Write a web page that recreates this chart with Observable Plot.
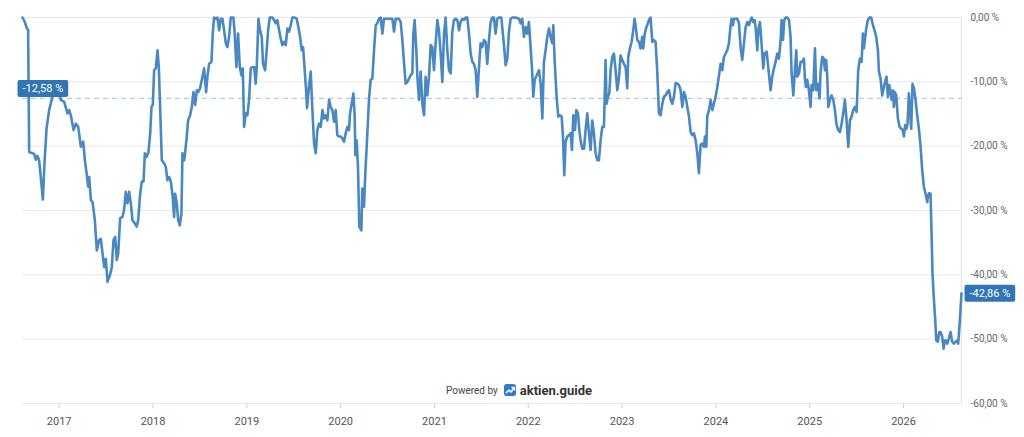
<!DOCTYPE html>
<html><head><meta charset="utf-8">
<script src="https://cdn.jsdelivr.net/npm/d3@7"></script>
<script src="https://cdn.jsdelivr.net/npm/@observablehq/plot@0.6"></script>
<style>
body{margin:0;background:#fff;font-family:Roboto,sans-serif}
#wrap{position:relative;width:1024px;height:437px}
#wm{position:absolute;left:446px;top:381px;display:flex;align-items:center;height:18px;font-family:Roboto,sans-serif}
svg [aria-label="x-axis tick"]{stroke:#d0d0d0}
</style></head><body>
<div id="wrap">
<div id="wm"><span style="font-size:10px;color:#444">Powered by</span><svg width="12" height="12" style="margin:0 4px 0 6px"><rect width="12" height="12" rx="2.5" fill="#2f7ccf"/><path d="M2 9 L5 6 L7 8 L10 4" stroke="#fff" stroke-width="1.6" fill="none" stroke-linejoin="round"/><path d="M7.5 3.5 L10.5 3.5 L10.5 6.5" stroke="#fff" stroke-width="1.4" fill="none"/></svg><span style="font-size:13px;font-weight:700;color:#333">aktien.guide</span></div>
</div>
<script>
// drawdown in % by date (decimal year)
const y2016 = [[2016.609,0],[2016.634,-0.7],[2016.655,-1.7],[2016.669,-1.9],[2016.680,-20.9],[2016.715,-21.1],[2016.733,-21.2],[2016.751,-22.1],[2016.769,-21.5],[2016.786,-22.2],[2016.804,-24.8],[2016.826,-28.3],[2016.843,-22.7],[2016.865,-17.3],[2016.893,-14.4],[2016.929,-12.3],[2016.964,-11.3]];
const y2017 = [[2017.000,-11.8],[2017.018,-12.8],[2017.053,-13.1],[2017.089,-14.9],[2017.107,-14.4],[2017.124,-15.2],[2017.153,-17.5],[2017.178,-16.5],[2017.203,-17.0],[2017.231,-20.1],[2017.256,-19.3],[2017.274,-22.2],[2017.292,-24.2],[2017.309,-26.3],[2017.320,-24.8],[2017.338,-28.4],[2017.356,-28.7],[2017.380,-31.5],[2017.401,-36.2],[2017.426,-34.6],[2017.444,-34.4],[2017.462,-36.7],[2017.480,-38.8],[2017.497,-37.5],[2017.515,-41.1],[2017.540,-40.1],[2017.561,-38.8],[2017.579,-34.6],[2017.597,-34.1],[2017.614,-37.7],[2017.629,-36.7],[2017.650,-31.2],[2017.675,-31.0],[2017.692,-29.9],[2017.710,-27.1],[2017.728,-28.9],[2017.746,-27.1],[2017.764,-28.9],[2017.781,-31.5],[2017.806,-32.0],[2017.827,-32.5],[2017.842,-31.5],[2017.863,-27.4],[2017.881,-25.5],[2017.899,-25.5],[2017.913,-21.1],[2017.931,-21.7],[2017.952,-20.9],[2017.970,-18.0],[2017.984,-13.9],[2017.998,-13.6]];
const y2018 = [[2018.012,-8.2],[2018.030,-7.9],[2018.048,-5.1],[2018.062,-7.7],[2018.076,-13.9],[2018.094,-22.2],[2018.119,-22.7],[2018.136,-23.2],[2018.154,-25.3],[2018.172,-24.8],[2018.190,-25.5],[2018.207,-27.4],[2018.225,-31.0],[2018.236,-27.4],[2018.254,-28.9],[2018.268,-31.5],[2018.286,-32.3],[2018.303,-30.5],[2018.314,-21.1],[2018.332,-22.2],[2018.342,-21.1],[2018.360,-18.5],[2018.374,-16.0],[2018.396,-15.2],[2018.413,-13.9],[2018.431,-11.6],[2018.449,-13.6],[2018.467,-11.3],[2018.481,-11.6],[2018.502,-11.0],[2018.527,-9.2],[2018.545,-7.9],[2018.566,-11.6],[2018.580,-9.2],[2018.598,-7.2],[2018.623,-6.9],[2018.637,-2.5],[2018.651,0],[2018.669,-0.2],[2018.687,0],[2018.705,-2.0],[2018.722,-0.2],[2018.740,-0.2],[2018.758,-2.0],[2018.776,-4.0],[2018.793,-4.6],[2018.811,-3.0],[2018.829,0],[2018.857,0],[2018.871,-2.5],[2018.889,-7.7],[2018.907,-2.5],[2018.925,-7.7],[2018.943,-9.0],[2018.957,-7.9],[2018.971,-17.0],[2018.989,-14.9]];
const y2019 = [[2019.006,-15.2],[2019.024,-12.8],[2019.042,-7.9],[2019.060,-7.7],[2019.078,-7.7],[2019.095,-10.3],[2019.106,-7.7],[2019.124,-0.2],[2019.141,-2.0],[2019.159,-3.0],[2019.173,-7.2],[2019.195,-8.2],[2019.209,-5.6],[2019.227,-2.0],[2019.245,0],[2019.273,0],[2019.291,-0.4],[2019.308,-0.9],[2019.326,-0.4],[2019.344,-2.0],[2019.362,-3.3],[2019.379,-4.3],[2019.397,-3.8],[2019.415,-4.3],[2019.433,-1.7],[2019.450,-2.2],[2019.468,-1.2],[2019.486,0],[2019.511,0],[2019.532,-0.2],[2019.550,-1.5],[2019.568,-3.0],[2019.585,-5.1],[2019.600,-4.6],[2019.617,-8.2],[2019.632,-11.3],[2019.642,-14.1],[2019.664,-10.5],[2019.681,-8.4],[2019.699,-14.4],[2019.717,-19.6],[2019.735,-21.1],[2019.752,-17.5],[2019.770,-16.5],[2019.788,-17.0],[2019.806,-14.4],[2019.823,-15.7],[2019.841,-15.2],[2019.859,-16.0],[2019.877,-12.8],[2019.894,-13.9],[2019.912,-14.4],[2019.930,-16.2],[2019.947,-14.4],[2019.965,-18.3],[2019.983,-18.5]];
const y2020 = [[2020.001,-18.5],[2020.018,-18.8],[2020.036,-19.3],[2020.054,-18.0],[2020.072,-17.0],[2020.089,-17.5],[2020.100,-14.9],[2020.118,-13.4],[2020.136,-11.8],[2020.150,-15.4],[2020.157,-21.4],[2020.171,-19.1],[2020.185,-23.2],[2020.199,-32.5],[2020.221,-33.1],[2020.231,-26.6],[2020.249,-29.4],[2020.263,-24.2],[2020.285,-18.0],[2020.302,-12.8],[2020.320,-9.7],[2020.338,-9.5],[2020.356,-5.1],[2020.374,-1.2],[2020.391,-0.9],[2020.409,-0.2],[2020.427,0],[2020.445,-2.5],[2020.462,-0.2],[2020.498,-0.2],[2020.533,-0.2],[2020.551,-0.2],[2020.569,-2.2],[2020.587,-0.2],[2020.622,-0.2],[2020.640,-0.7],[2020.658,-3.5],[2020.675,-6.9],[2020.693,-10.3],[2020.711,-10.0],[2020.729,-9.5],[2020.746,-9.0],[2020.764,-8.7],[2020.775,-2.5],[2020.789,-0.4],[2020.807,-5.1],[2020.818,-9.2],[2020.835,-12.8],[2020.853,-8.4],[2020.871,-13.4],[2020.889,-15.2],[2020.906,-9.2],[2020.924,-12.1],[2020.942,-9.2],[2020.960,-4.3],[2020.977,-4.6],[2020.995,-8.2]];
const y2021 = [[2021.013,-4.0],[2021.031,-0.4],[2021.048,-2.0],[2021.066,-5.6],[2021.084,-10.0],[2021.102,-2.5],[2021.119,0],[2021.137,-5.1],[2021.155,-8.2],[2021.173,-8.7],[2021.190,-2.2],[2021.208,-0.4],[2021.226,-0.2],[2021.244,-0.4],[2021.262,-2.0],[2021.279,-0.7],[2021.297,-0.2],[2021.315,-0.4],[2021.333,0],[2021.350,0],[2021.368,-2.5],[2021.386,-5.6],[2021.404,-6.9],[2021.421,-7.2],[2021.439,-8.2],[2021.457,-12.3],[2021.475,-7.7],[2021.492,-4.0],[2021.510,-4.6],[2021.528,-3.5],[2021.546,-3.8],[2021.563,-7.2],[2021.581,-3.5],[2021.599,-0.7],[2021.617,0],[2021.634,0],[2021.652,-2.5],[2021.670,-0.2],[2021.688,0],[2021.713,0],[2021.741,-4.3],[2021.759,-7.4],[2021.777,-6.4],[2021.794,-2.2],[2021.812,-0.2],[2021.830,0],[2021.865,0],[2021.901,-0.2],[2021.919,-0.9],[2021.936,-0.2],[2021.954,-3.0],[2021.972,-1.5],[2021.990,-2.5]];
const y2022 = [[2022.007,-0.7],[2022.025,-4.6],[2022.043,-8.7],[2022.054,-12.3],[2022.068,-9.7],[2022.089,-9.0],[2022.114,-8.2],[2022.132,-10.3],[2022.150,-15.7],[2022.167,-6.9],[2022.185,-5.1],[2022.203,-3.0],[2022.221,-1.7],[2022.238,-3.0],[2022.256,-4.0],[2022.267,-1.2],[2022.281,-6.6],[2022.302,-12.3],[2022.320,-15.4],[2022.338,-15.2],[2022.356,-15.4],[2022.370,-18.5],[2022.384,-24.5],[2022.398,-19.3],[2022.416,-18.5],[2022.434,-18.3],[2022.451,-18.0],[2022.466,-20.6],[2022.480,-15.2],[2022.498,-17.5],[2022.512,-14.4],[2022.530,-14.9],[2022.544,-17.5],[2022.558,-19.1],[2022.576,-20.4],[2022.594,-20.4],[2022.611,-17.5],[2022.629,-14.9],[2022.647,-18.0],[2022.665,-20.6],[2022.682,-16.0],[2022.700,-18.0],[2022.718,-21.1],[2022.736,-22.2],[2022.753,-22.2],[2022.771,-19.1],[2022.789,-17.0],[2022.807,-17.0],[2022.824,-6.6],[2022.835,-13.4],[2022.849,-12.3],[2022.864,-11.8],[2022.878,-8.2],[2022.895,-6.1],[2022.913,-5.6],[2022.931,-8.2],[2022.949,-11.3],[2022.966,-9.5],[2022.984,-5.9]];
const y2023 = [[2023.002,-6.6],[2023.020,-7.2],[2023.038,-7.7],[2023.055,-11.0],[2023.066,-6.1],[2023.084,-4.8],[2023.101,-3.8],[2023.119,-2.0],[2023.133,-0.2],[2023.148,-1.7],[2023.162,-3.5],[2023.180,-3.8],[2023.197,-4.8],[2023.215,-3.0],[2023.226,-4.8],[2023.240,-2.7],[2023.254,-1.7],[2023.268,-1.2],[2023.286,-0.4],[2023.304,0],[2023.322,-3.8],[2023.339,-3.5],[2023.357,-3.8],[2023.375,-8.4],[2023.393,-14.9],[2023.410,-15.2],[2023.429,-13.4],[2023.447,-12.3],[2023.464,-12.1],[2023.482,-11.6],[2023.500,-11.3],[2023.518,-12.8],[2023.535,-13.4],[2023.553,-12.3],[2023.571,-10.2],[2023.589,-10.3],[2023.606,-10.5],[2023.624,-11.3],[2023.642,-13.9],[2023.660,-11.6],[2023.677,-12.3],[2023.695,-13.9],[2023.713,-15.4],[2023.731,-17.8],[2023.748,-18.3],[2023.766,-18.0],[2023.784,-19.1],[2023.802,-21.1],[2023.819,-24.2],[2023.837,-19.8],[2023.855,-19.6],[2023.873,-20.1],[2023.883,-18.5],[2023.898,-20.1],[2023.908,-15.4],[2023.926,-14.4],[2023.944,-12.8],[2023.962,-14.4],[2023.979,-13.4],[2023.997,-12.3]];
const y2024 = [[2024.015,-10.8],[2024.033,-9.0],[2024.050,-7.2],[2024.068,-8.2],[2024.086,-6.1],[2024.104,-5.6],[2024.121,-5.1],[2024.139,-4.0],[2024.157,-1.2],[2024.168,-0.2],[2024.182,-1.2],[2024.192,-0.2],[2024.228,-0.2],[2024.246,-0.9],[2024.263,-4.6],[2024.281,-6.6],[2024.299,-4.0],[2024.317,-1.5],[2024.335,-0.7],[2024.352,-1.2],[2024.370,-0.4],[2024.381,0],[2024.398,-0.7],[2024.413,-0.4],[2024.423,-1.5],[2024.441,-5.1],[2024.452,-2.0],[2024.469,-0.7],[2024.484,-3.5],[2024.505,-7.9],[2024.519,-5.6],[2024.541,-5.3],[2024.558,-7.7],[2024.583,-11.3],[2024.601,-9.2],[2024.619,-7.9],[2024.636,-6.9],[2024.654,-5.6],[2024.672,-6.4],[2024.690,-3.5],[2024.700,-0.4],[2024.715,-3.5],[2024.729,-0.4],[2024.743,0],[2024.761,0],[2024.779,-0.4],[2024.796,-3.0],[2024.807,-8.7],[2024.825,-12.1],[2024.842,-8.2],[2024.857,-5.1],[2024.867,-9.2],[2024.885,-8.7],[2024.903,-6.9],[2024.921,-6.9],[2024.938,-6.4],[2024.949,-9.5],[2024.960,-10.8],[2024.974,-9.7],[2024.992,-11.3]];
const y2025 = [[2025.009,-13.9],[2025.020,-10.5],[2025.038,-11.3],[2025.056,-4.8],[2025.070,-11.3],[2025.088,-10.3],[2025.105,-12.6],[2025.116,-8.4],[2025.134,-6.1],[2025.151,-6.4],[2025.162,-8.2],[2025.176,-6.6],[2025.187,-9.2],[2025.198,-13.9],[2025.215,-12.8],[2025.233,-12.1],[2025.251,-12.8],[2025.269,-14.4],[2025.286,-16.7],[2025.304,-17.5],[2025.322,-17.8],[2025.340,-16.5],[2025.357,-14.9],[2025.375,-12.8],[2025.393,-16.0],[2025.411,-20.1],[2025.429,-16.0],[2025.446,-15.4],[2025.464,-14.4],[2025.482,-13.9],[2025.500,-14.7],[2025.517,-8.2],[2025.535,-6.4],[2025.553,-6.9],[2025.567,-2.5],[2025.578,-4.8],[2025.588,-3.5],[2025.603,-1.7],[2025.620,-0.4],[2025.638,0],[2025.656,0],[2025.674,-1.2],[2025.691,-2.0],[2025.709,-3.0],[2025.727,-5.1],[2025.738,-8.4],[2025.755,-9.5],[2025.773,-12.1],[2025.791,-10.8],[2025.809,-9.7],[2025.819,-9.2],[2025.833,-12.3],[2025.848,-10.5],[2025.862,-11.8],[2025.873,-12.8],[2025.887,-11.3],[2025.897,-13.9],[2025.908,-11.6],[2025.922,-12.1],[2025.940,-15.7],[2025.958,-17.0],[2025.976,-17.3],[2025.993,-17.5]];
const y2026 = [[2026.004,-18.5],[2026.018,-16.7],[2026.032,-17.3],[2026.043,-16.5],[2026.057,-11.8],[2026.071,-14.9],[2026.082,-17.3],[2026.096,-10.3],[2026.111,-11.0],[2026.128,-12.8],[2026.146,-15.2],[2026.164,-17.3],[2026.182,-20.1],[2026.199,-23.7],[2026.217,-26.3],[2026.235,-27.4],[2026.253,-28.7],[2026.263,-27.6],[2026.274,-27.3],[2026.288,-27.4],[2026.299,-33.6],[2026.309,-39.8],[2026.324,-43.9],[2026.338,-47.0],[2026.349,-50.2],[2026.366,-50.4],[2026.381,-48.9],[2026.395,-48.9],[2026.412,-49.6],[2026.427,-51.5],[2026.441,-50.2],[2026.455,-50.2],[2026.466,-50.7],[2026.483,-49.9],[2026.501,-48.9],[2026.519,-50.4],[2026.537,-50.7],[2026.554,-50.4],[2026.572,-50.2],[2026.583,-50.7],[2026.601,-47.0],[2026.618,-42.86]];

const yearTicks = [2017, 2018, 2019, 2020, 2021, 2022, 2023, 2024, 2025, 2026];
const pctTicks = [0, -10, -20, -30, -40, -50, -60];
const meanPct = -12.58;
const lastPct = -42.86;

const series = [...y2016, ...y2017, ...y2018, ...y2019, ...y2020, ...y2021, ...y2022, ...y2023, ...y2024, ...y2025, ...y2026].map(([t, v]) => ({t, v}));
const t0 = series[0].t, t1 = series[series.length - 1].t;
const fmt = d => d.toFixed(2).replace(".", ",") + " %";
const badgeTexts = [fmt(meanPct), fmt(lastPct)];

const chart = Plot.plot({
  width: 1024, height: 437,
  marginLeft: 22, marginRight: 63, marginTop: 17, marginBottom: 34,
  style: {fontFamily: "Roboto, sans-serif", background: "white", overflow: "visible"},
  x: {domain: [t0, t1], label: null},
  y: {domain: [-60, 0], label: null},
  marks: [
    Plot.gridY(pctTicks, {stroke: "#e8e8e8", strokeOpacity: 1}),
    Plot.ruleX([t1], {stroke: "#e2e2e2"}),
    Plot.ruleY([meanPct], {stroke: "#b3cce2", strokeDasharray: "5,4", strokeWidth: 1.2}),
    Plot.line(series, {x: "t", y: "v", stroke: "#4a88c1", strokeWidth: 2.6, strokeLinejoin: "round"}),
    Plot.axisX({ticks: yearTicks, tickFormat: d => String(d), tickSize: 5, tickPadding: 9, fontSize: 11, color: "#555", label: null}),
    Plot.axisY({anchor: "right", ticks: pctTicks, tickFormat: fmt, tickSize: 0, tickPadding: 9, fontSize: 10, color: "#666", label: null}),
    Plot.text([{t: t0, v: meanPct, s: badgeTexts[0]}], {x: "t", y: "v", text: "s", textAnchor: "start", dy: -10, fill: "white", fontSize: 11}),
    Plot.text([{t: t1, v: lastPct, s: badgeTexts[1]}], {x: "t", y: "v", text: "s", textAnchor: "start", dx: 8, fill: "white", fontSize: 11})
  ]
});
const wrap = document.getElementById("wrap");
wrap.insertBefore(chart, wrap.firstChild);
d3.select(chart).selectAll("text").filter(function () { return badgeTexts.includes(this.textContent); }).each(function () {
  const b = this.getBBox();
  const r = document.createElementNS("http://www.w3.org/2000/svg", "rect");
  const tf = this.getAttribute("transform");
  if (tf) r.setAttribute("transform", tf);
  r.setAttribute("x", b.x - 5); r.setAttribute("y", b.y - 2);
  r.setAttribute("width", b.width + 10); r.setAttribute("height", b.height + 4);
  r.setAttribute("rx", 2); r.setAttribute("fill", "#3175b5");
  this.parentNode.insertBefore(r, this);
});
</script>
</body></html>
